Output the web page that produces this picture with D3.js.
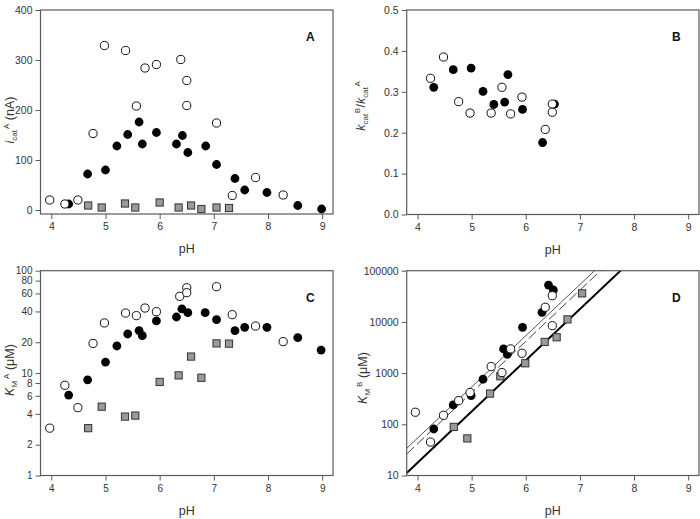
<!DOCTYPE html>
<html>
<head>
<meta charset="utf-8">
<script src="https://cdn.jsdelivr.net/npm/d3@7"></script>
<style>
  body { margin: 0; background: #fff; }
  svg { display: block; font-family: "Liberation Sans", Arial, sans-serif; }
</style>
</head>
<body>
<svg id="chart" width="700" height="519"></svg>
<script>
// pH ticks shared by all panels
const pHTicks = [4, 5, 6, 7, 8, 9]

// panel A: i_cat^A (nA)
const icatOpen = [[3.97,20],[4.25,12],[4.49,20],[4.77,153],[4.98,329],[5.37,319],[5.57,208],[5.73,284],[5.94,291],[6.39,301],[6.50,259],[6.50,209],[7.05,174],[7.34,29],[7.77,65],[8.28,30]]
const icatFilled = [[4.32,12],[4.67,72],[5.00,80],[5.21,128],[5.41,151],[5.62,176],[5.68,132],[5.94,155],[6.31,132],[6.42,149],[6.52,115],[6.85,128],[7.05,91],[7.39,63],[7.57,40],[7.98,35],[8.55,9],[8.99,2]]
const icatSquare = [[4.68,9],[4.93,5],[5.36,13],[5.55,5],[6.00,15],[6.35,5],[6.58,9],[6.77,2],[7.05,5],[7.28,4]]
const icatTicks = [0, 100, 200, 300, 400]

// panel B: k_cat^B / k_cat^A
const ratioOpen = [[4.24,0.333],[4.48,0.385],[4.76,0.276],[4.97,0.248],[5.36,0.248],[5.56,0.311],[5.72,0.246],[5.93,0.287],[6.36,0.208],[6.49,0.270],[6.49,0.250]]
const ratioFilled = [[4.30,0.311],[4.66,0.354],[4.99,0.358],[5.21,0.301],[5.41,0.269],[5.61,0.275],[5.67,0.342],[5.94,0.257],[6.31,0.176],[6.53,0.270]]
const ratioTicks = [0, 0.1, 0.2, 0.3, 0.4, 0.5]

// panel C: K_M^A (uM)
const kmaOpen = [[3.97,2.9],[4.25,7.6],[4.49,4.6],[4.77,19.5],[4.98,30.9],[5.37,38.6],[5.57,36.4],[5.73,43.2],[5.94,39.8],[6.37,56.2],[6.50,68.2],[6.50,61],[7.05,69.8],[7.34,37.2],[7.77,28.8],[8.28,20.3]]
const kmaFilled = [[4.32,6.1],[4.67,8.6],[5.00,12.8],[5.21,18.4],[5.41,24.1],[5.62,26],[5.68,23.2],[5.94,32.3],[6.31,35.3],[6.41,42.3],[6.52,38.9],[6.84,38.9],[7.05,33.3],[7.39,26],[7.57,28],[7.98,28],[8.55,22.2],[8.98,16.8]]
const kmaSquare = [[4.68,2.9],[4.93,4.7],[5.36,3.76],[5.55,3.85],[6.00,8.2],[6.35,9.5],[6.58,14.5],[6.77,9.0],[7.05,19.5],[7.28,19.4]]
const kmaTicks = [1, 2, 4, 6, 8, 10, 20, 40, 60, 80, 100]

// panel D: K_M^B (uM)
const kmbOpen = [[3.96,172],[4.24,45],[4.48,150],[4.76,290],[4.97,417],[5.36,1340],[5.56,1024],[5.72,2970],[5.93,2440],[6.36,19300],[6.49,8450],[6.49,32500]]
const kmbFilled = [[4.30,81],[4.66,239],[4.99,364],[5.21,759],[5.59,2970],[5.66,2330],[5.94,7830],[6.30,15400],[6.42,52500],[6.51,42000]]
const kmbSquare = [[4.67,89],[4.92,53],[5.34,398],[5.53,867],[5.99,1556],[6.35,4060],[6.57,5000],[6.77,11200],[7.04,36100]]
const kmbTicks = [10, 100, 1000, 10000, 100000]
// log10(KM) = pH + intercept, for filled / open / squares
const kmbFitIntercepts = [-2.27, -2.38, -2.75]

const svg = d3.select('#chart')
const frameColor = '#5a5a5a'
const textColor = '#333'

function drawPanel(opt){
    const g = svg.append('g')
    const x = d3.scaleLinear().domain([3.8, 9.2]).range([opt.left, opt.right])
    const y = (opt.log ? d3.scaleLog() : d3.scaleLinear())
        .domain(opt.yDomain).range([opt.bottom, opt.top])

    const clipId = 'clip_' + opt.letter
    g.append('clipPath').attr('id', clipId)
        .append('rect')
        .attr('x', opt.left).attr('y', opt.top)
        .attr('width', opt.right - opt.left).attr('height', opt.bottom - opt.top)

    // fitted lines (panel D only)
    if(opt.fits){
        opt.fits.forEach((c, i) => {
            const st = opt.fitStyles[i]
            const pts = x.domain().map(p => [p, Math.pow(10, p + c)])
            g.append('path')
            .attr('d', d3.line().x(d => x(d[0])).y(d => y(d[1]))(pts))
            .attr('clip-path', `url(#${clipId})`)
            .attr('fill', 'none')
            .attr('stroke', st.color)
            .attr('stroke-width', st.width)
            .attr('stroke-dasharray', st.dash)
        })
    }

    // frame
    g.append('rect')
    .attr('x', opt.left).attr('y', opt.top)
    .attr('width', opt.right - opt.left).attr('height', opt.bottom - opt.top)
    .attr('fill', 'none')
    .attr('stroke', frameColor)
    .attr('stroke-width', 1.2)

    // axes
    const xAxis = d3.axisBottom(x).tickValues(pHTicks).tickSize(5).tickSizeOuter(0).tickPadding(4)
        .tickFormat(d3.format('d'))
    const gx = g.append('g').attr('transform', `translate(0,${opt.bottom})`).call(xAxis)
    const yAxis = d3.axisLeft(y).tickValues(opt.yTicks).tickSize(5).tickSizeOuter(0).tickPadding(3)
        .tickFormat(opt.yFormat || d3.format('d'))
    const gy = g.append('g').attr('transform', `translate(${opt.left},0)`).call(yAxis)
    ;[gx, gy].forEach(a => {
        a.select('.domain').remove()
        a.selectAll('line').attr('stroke', frameColor)
        a.selectAll('text').attr('fill', textColor).attr('font-size', opt.tickFont || '10.5px')
            .attr('font-family', '"Liberation Sans", Arial, sans-serif')
    })

    // markers: squares, then filled, then open on top
    g.selectAll('.sq').data(opt.square || []).join('rect')
    .attr('x', d => x(d[0]) - 3.6)
    .attr('y', d => y(d[1]) - 3.6)
    .attr('width', 7.2).attr('height', 7.2)
    .attr('fill', '#9a9a9a')
    .attr('stroke', '#333')
    .attr('stroke-width', 1)

    g.selectAll('.fc').data(opt.filled).join('circle')
    .attr('cx', d => x(d[0])).attr('cy', d => y(d[1]))
    .attr('r', 4.4)
    .attr('fill', '#000')

    g.selectAll('.oc').data(opt.open).join('circle')
    .attr('cx', d => x(d[0])).attr('cy', d => y(d[1]))
    .attr('r', 4.1)
    .attr('fill', '#fff')
    .attr('stroke', '#111')
    .attr('stroke-width', 1)

    // panel letter
    g.append('text')
    .attr('x', opt.right - 27).attr('y', opt.top + 31)
    .attr('font-size', '12px').attr('font-weight', 'bold')
    .attr('fill', '#111')
    .text(opt.letter)

    // x label
    g.append('text')
    .attr('x', (opt.left + opt.right) / 2).attr('y', opt.bottom + 39)
    .attr('text-anchor', 'middle')
    .attr('font-size', '12.5px')
    .attr('fill', textColor)
    .text('pH')

    // y label with sub/superscripts
    const yl = g.append('text')
    .attr('transform', `translate(${opt.yLabelX},${opt.yLabelY}) rotate(-90)`)
    .attr('text-anchor', 'middle')
    .attr('font-size', '12.5px')
    .attr('fill', textColor)
    opt.yLabel.forEach(s => {
        const t = yl.append('tspan').text(s.t)
        if(s.it) t.attr('font-style', 'italic')
        if(s.sub || s.sup) t.attr('font-size', '8px')
        if(s.dy) t.attr('dy', s.dy)
        if(s.dx) t.attr('dx', s.dx)
    })
}

drawPanel({
    letter: 'A', left: 40.5, right: 333, top: 10, bottom: 214,
    yDomain: [-8, 400], yTicks: icatTicks,
    open: icatOpen, filled: icatFilled, square: icatSquare,
    yLabelX: 14, yLabelY: 120,
    yLabel: [{t: 'i', it: true}, {t: 'cat', sub: true, dy: 3}, {t: 'A', sup: true, dy: -8, dx: 1}, {t: ' (nA)', dy: 5}]
})

drawPanel({
    letter: 'B', left: 406.7, right: 699, top: 10, bottom: 214.5,
    yDomain: [0, 0.5], yTicks: ratioTicks, yFormat: d3.format('.1f'),
    open: ratioOpen, filled: ratioFilled,
    yLabelX: 365, yLabelY: 106,
    yLabel: [{t: 'k', it: true}, {t: 'cat', sub: true, dy: 3}, {t: 'B', sup: true, dy: -8, dx: 0.5}, {t: '/', dy: 5, dx: 0.5}, {t: 'k', it: true},
        {t: 'cat', sub: true, dy: 3}, {t: 'A', sup: true, dy: -8, dx: 0.5}]
})

drawPanel({
    letter: 'C', left: 40.5, right: 333, top: 270.7, bottom: 475.5,
    log: true, yDomain: [1, 100], yTicks: kmaTicks, tickFont: '10px',
    open: kmaOpen, filled: kmaFilled, square: kmaSquare,
    yLabelX: 14, yLabelY: 370,
    yLabel: [{t: 'K', it: true}, {t: 'M', sub: true, dy: 3}, {t: 'A', sup: true, dy: -8, dx: 2}, {t: ' (\u03bcM)', dy: 5}]
})

drawPanel({
    letter: 'D', left: 406.7, right: 699, top: 270.7, bottom: 475.5,
    log: true, yDomain: [10, 100000], yTicks: kmbTicks,
    open: kmbOpen, filled: kmbFilled, square: kmbSquare,
    fits: kmbFitIntercepts,
    fitStyles: [{color: '#555', width: 1, dash: null}, {color: '#444', width: 1, dash: '10,4'}, {color: '#000', width: 2, dash: null}],
    yLabelX: 367, yLabelY: 378,
    yLabel: [{t: 'K', it: true}, {t: 'M', sub: true, dy: 3}, {t: 'B', sup: true, dy: -8, dx: 2}, {t: ' (\u03bcM)', dy: 5}]
})
</script>
</body>
</html>
